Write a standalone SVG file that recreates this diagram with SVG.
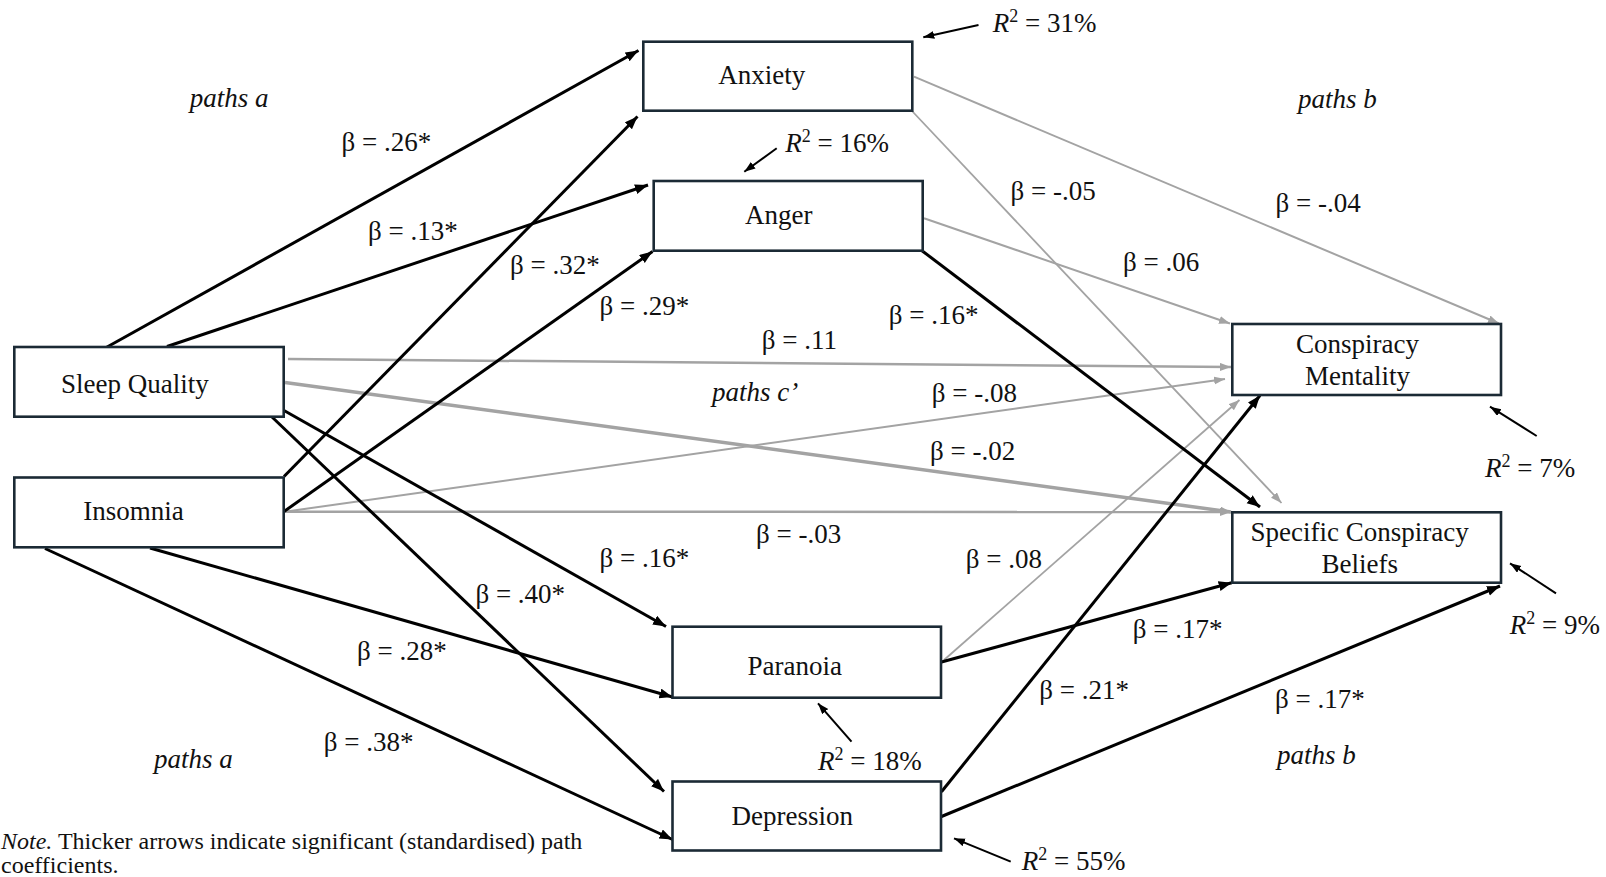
<svg xmlns="http://www.w3.org/2000/svg" width="1606" height="877" viewBox="0 0 1606 877">
<style>
  .box { fill: #ffffff; stroke: #1b2a35; stroke-width: 2.6; }
  .t { font-family: "Liberation Serif", "Times New Roman", serif; font-size: 27px; fill: #111111; }
  .it { font-style: italic; }
  .mid { text-anchor: middle; }
  .sig { stroke: #000000; stroke-width: 3; fill: none; marker-end: url(#ab); }
  .ns { stroke: #a3a3a3; stroke-width: 2; fill: none; marker-end: url(#ag); }
  .r2 { stroke: #000000; stroke-width: 2; fill: none; marker-end: url(#ar); }
  .note { font-family: "Liberation Serif", "Times New Roman", serif; font-size: 24px; fill: #111111; }
</style>
<defs>
  <marker id="ab" markerUnits="userSpaceOnUse" markerWidth="14" markerHeight="12" refX="13" refY="5" orient="auto">
    <path d="M0,0 L13,5 L0,10 Z" fill="#000000"/>
  </marker>
  <marker id="ag" markerUnits="userSpaceOnUse" markerWidth="12" markerHeight="10" refX="11" refY="4" orient="auto">
    <path d="M0,0 L11,4 L0,8 Z" fill="#a3a3a3"/>
  </marker>
  <marker id="ar" markerUnits="userSpaceOnUse" markerWidth="12" markerHeight="10" refX="11" refY="4" orient="auto">
    <path d="M0,0 L11,4 L0,8 Z" fill="#000000"/>
  </marker>
</defs>
<rect x="0" y="0" width="1606" height="877" fill="#ffffff"/>

<g id="connectors">
  <!-- non-significant (grey) -->
  <line class="ns" x1="288" y1="359" x2="1231" y2="367" style="stroke-width:2.5"/>
  <line class="ns" x1="285" y1="382.5" x2="1231" y2="512" style="stroke-width:3.5"/>
  <line class="ns" x1="285" y1="511.7" x2="1225" y2="379"/>
  <line class="ns" x1="285" y1="511.7" x2="1231" y2="512" style="stroke-width:2.5"/>
  <line class="ns" x1="914" y1="76.7" x2="1499" y2="323.5"/>
  <line class="ns" x1="912.5" y1="111.5" x2="1281.5" y2="503" style="stroke-width:1.8"/>
  <line class="ns" x1="924" y1="218.3" x2="1230" y2="323.5"/>
  <line class="ns" x1="944" y1="660" x2="1239.5" y2="400" style="stroke-width:1.8"/>
  <!-- significant (black) -->
  <line class="sig" x1="103.5" y1="349" x2="638.5" y2="50.5"/>
  <line class="sig" x1="167" y1="346.5" x2="648" y2="185"/>
  <line class="sig" x1="284" y1="476.5" x2="637.5" y2="116.5"/>
  <line class="sig" x1="284" y1="511.5" x2="652.5" y2="251.5"/>
  <line class="sig" x1="284" y1="410.5" x2="666" y2="626.5"/>
  <line class="sig" x1="272" y1="417" x2="664" y2="791.5"/>
  <line class="sig" x1="150" y1="548" x2="672.5" y2="697"/>
  <line class="sig" x1="45" y1="548.5" x2="672.5" y2="839.5"/>
  <line class="sig" x1="922" y1="250.7" x2="1260" y2="507"/>
  <line class="sig" x1="941.5" y1="662" x2="1231.7" y2="582.7"/>
  <line class="sig" x1="941.5" y1="791.7" x2="1260" y2="395.5"/>
  <line class="sig" x1="941.5" y1="816.5" x2="1500" y2="586"/>
  <!-- R-squared pointers -->
  <line class="r2" x1="978.5" y1="25" x2="923.3" y2="37.3"/>
  <line class="r2" x1="776.7" y1="148.3" x2="744.3" y2="171.7"/>
  <line class="r2" x1="1536.7" y1="436" x2="1490" y2="406.7"/>
  <line class="r2" x1="1556" y1="593.3" x2="1510" y2="563.3"/>
  <line class="r2" x1="851.5" y1="741.7" x2="818" y2="703.3"/>
  <line class="r2" x1="1010.7" y1="861.7" x2="954" y2="838.3"/>
</g>

<g id="node-anxiety">
  <rect class="box" x="643.3" y="41.7" width="269" height="69"/>
  <text class="t" x="718.3" y="84">Anxiety</text>
</g>
<g id="node-anger">
  <rect class="box" x="653.7" y="181" width="269" height="69.7"/>
  <text class="t" x="745" y="224">Anger</text>
</g>
<g id="node-sleep-quality">
  <rect class="box" x="14.3" y="347" width="269.4" height="69.7"/>
  <text class="t" x="61" y="392.7">Sleep Quality</text>
</g>
<g id="node-insomnia">
  <rect class="box" x="14.3" y="477.5" width="269.4" height="69.8"/>
  <text class="t" x="83.3" y="520">Insomnia</text>
</g>
<g id="node-conspiracy-mentality">
  <rect class="box" x="1232.3" y="324" width="268.7" height="71"/>
  <text class="t mid" x="1357.5" y="353.3">Conspiracy</text>
  <text class="t mid" x="1357.5" y="385">Mentality</text>
</g>
<g id="node-specific-conspiracy-beliefs">
  <rect class="box" x="1232.3" y="512.3" width="268.7" height="70.4"/>
  <text class="t mid" x="1359.7" y="540.7">Specific Conspiracy</text>
  <text class="t mid" x="1359.7" y="573.3">Beliefs</text>
</g>
<g id="node-paranoia">
  <rect class="box" x="672.5" y="626.7" width="268.5" height="71"/>
  <text class="t" x="747.6" y="675">Paranoia</text>
</g>
<g id="node-depression">
  <rect class="box" x="672.5" y="781.5" width="268.5" height="69"/>
  <text class="t" x="731.5" y="825">Depression</text>
</g>

<g id="labels">
  <text class="t it" x="189.7" y="107">paths a</text>
  <text class="t it" x="1298" y="108">paths b</text>
  <text class="t it" x="712" y="401">paths c’</text>
  <text class="t it" x="154" y="768">paths a</text>
  <text class="t it" x="1277" y="764">paths b</text>

  <text class="t" x="341.5" y="151">β = .26*</text>
  <text class="t" x="368" y="240">β = .13*</text>
  <text class="t" x="510" y="274">β = .32*</text>
  <text class="t" x="599.5" y="315">β = .29*</text>
  <text class="t" x="888.7" y="323.5">β = .16*</text>
  <text class="t" x="761.7" y="348.5">β = .11</text>
  <text class="t" x="931.7" y="402">β = -.08</text>
  <text class="t" x="930" y="460">β = -.02</text>
  <text class="t" x="756" y="542.5">β = -.03</text>
  <text class="t" x="599.5" y="567">β = .16*</text>
  <text class="t" x="965.7" y="568">β = .08</text>
  <text class="t" x="475.4" y="603">β = .40*</text>
  <text class="t" x="357" y="660">β = .28*</text>
  <text class="t" x="1132.7" y="638">β = .17*</text>
  <text class="t" x="1039.3" y="699">β = .21*</text>
  <text class="t" x="1275" y="707.5">β = .17*</text>
  <text class="t" x="323.7" y="751">β = .38*</text>
  <text class="t" x="1010.6" y="200">β = -.05</text>
  <text class="t" x="1275.6" y="211.5">β = -.04</text>
  <text class="t" x="1123" y="270.5">β = .06</text>

  <text class="t" x="992.7" y="32"><tspan class="it">R</tspan><tspan font-size="18" dy="-10">2</tspan><tspan dy="10"> = 31%</tspan></text>
  <text class="t" x="785.3" y="151.5"><tspan class="it">R</tspan><tspan font-size="18" dy="-10">2</tspan><tspan dy="10"> = 16%</tspan></text>
  <text class="t" x="1485" y="476.7"><tspan class="it">R</tspan><tspan font-size="18" dy="-10">2</tspan><tspan dy="10"> = 7%</tspan></text>
  <text class="t" x="1509.8" y="633.5"><tspan class="it">R</tspan><tspan font-size="18" dy="-10">2</tspan><tspan dy="10"> = 9%</tspan></text>
  <text class="t" x="818" y="770"><tspan class="it">R</tspan><tspan font-size="18" dy="-10">2</tspan><tspan dy="10"> = 18%</tspan></text>
  <text class="t" x="1021.7" y="870"><tspan class="it">R</tspan><tspan font-size="18" dy="-10">2</tspan><tspan dy="10"> = 55%</tspan></text>

  <text class="note" x="1" y="849"><tspan class="it">Note.</tspan> Thicker arrows indicate significant (standardised) path</text>
  <text class="note" x="1" y="873">coefficients.</text>
</g>
</svg>
